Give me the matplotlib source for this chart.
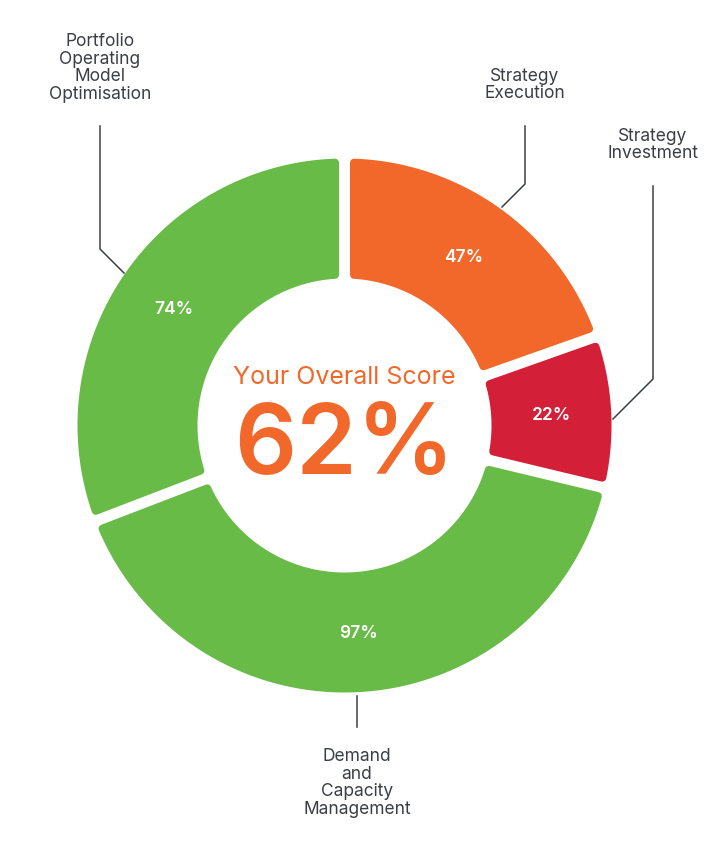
"""Donut chart of capability scores with overall score in the centre."""

import matplotlib
matplotlib.use('Agg')
import matplotlib.pyplot as plt
import numpy as np
from matplotlib.patches import Polygon

plt.rcParams.update({
    'font.family': ['Inter', 'DejaVu Sans'],
    'figure.dpi': 100,
})

# Segment data (clockwise from 12 o'clock)
categories = ['Strategy\nExecution', 'Strategy\nInvestment',
              'Demand\nand\nCapacity\nManagement',
              'Portfolio\nOperating\nModel\nOptimisation']
scores = [47, 22, 97, 74]
colors = ['#f2682a', '#d31f37', '#68bb47', '#68bb47']
overall = 62

# Label placement (pixel coords, y down) and leader lines
label_xy = [(525, 85), (653, 145), (357, 783), (100, 68)]
leaders = [
    [(525, 127), (525, 185), (502, 208)],
    [(653, 187), (653, 380), (613, 420)],
    [(357, 697), (357, 728)],
    [(100, 127), (100, 250), (124, 274)],
]

W, H = 714, 854
cx, cy = 344.5, 426.5
r_out, r_in, gap, rc = 267, 147, 11, 4

fig = plt.figure(figsize=(W / 100, H / 100))
ax = fig.add_axes([0, 0, 1, 1])

total = sum(scores)
wedges, _, pct_texts = ax.pie(
    scores, colors=colors, center=(cx, cy), radius=r_out,
    startangle=-90, counterclock=True,
    autopct=lambda p: f'{p * total / 100:.0f}%',
    pctdistance=207 / r_out,
    wedgeprops=dict(width=r_out - r_in),
    textprops=dict(color='white', fontsize=12.5, fontweight='semibold'))

# rebuild each wedge with a constant-width gap and rounded corners
d = gap / 2 + rc
ro, ri = r_out - rc, r_in + rc
for w in wedges:
    t1, t2 = np.radians(w.theta1), np.radians(w.theta2)
    a_o = np.linspace(t1 + np.arcsin(d / ro), t2 - np.arcsin(d / ro), 120)
    a_i = np.linspace(t2 - np.arcsin(d / ri), t1 + np.arcsin(d / ri), 80)
    xs = np.concatenate([cx + ro * np.cos(a_o), cx + ri * np.cos(a_i)])
    ys = np.concatenate([cy + ro * np.sin(a_o), cy + ri * np.sin(a_i)])
    fc = w.get_facecolor()
    ax.add_patch(Polygon(np.column_stack([xs, ys]), closed=True, facecolor=fc,
                         edgecolor=fc, linewidth=2 * rc * 0.72,
                         joinstyle='round', zorder=w.get_zorder()))
    w.set_visible(False)

ax.set_xlim(0, W)
ax.set_ylim(H, 0)
ax.set_aspect('equal')
ax.axis('off')

for name, (x, y) in zip(categories, label_xy):
    ax.text(x, y, name, ha='center', va='center', fontsize=12.5,
            color='#3a3f44', linespacing=1.05)

for pts in leaders:
    xs, ys = zip(*pts)
    ax.plot(xs, ys, color='#3a3f44', linewidth=1.1)

ax.text(cx, 378, 'Your Overall Score', ha='center', va='center',
        fontsize=18, color='#f2682a')
ax.text(cx, 449, f'{overall}%', ha='center', va='center',
        fontsize=70, color='#f2682a', fontweight='semibold')

fig.savefig('out.png', dpi=100)
plt.close()
print("[OK] out.png")
